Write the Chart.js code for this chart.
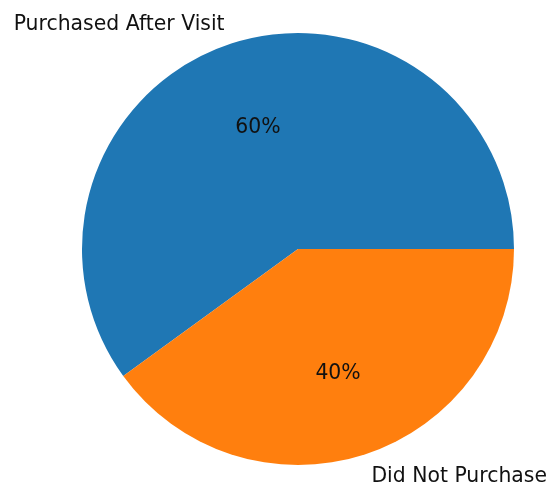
<!DOCTYPE html>
<html>
<head>
<meta charset="utf-8">
<title>Purchase after visit</title>
<script src="https://cdn.jsdelivr.net/npm/chart.js@4"></script>
<style>
  html, body { margin: 0; padding: 0; background: #ffffff; }
  canvas { display: block; }
</style>
</head>
<body>
<canvas id="pieChart" width="549" height="488"></canvas>
<script>
const categories = ['Purchased After Visit', 'Did Not Purchase'];
const shares = [60, 40];
const sliceColors = ['#1f77b4', '#ff7f0e'];

const FONT = '20.4px "DejaVu Sans", sans-serif';
const TEXT_DROP = 1.5; // nudge so the glyphs sit centred on the anchor point

// slice names just outside the rim, percentages inside the slices
const sliceLabels = {
  id: 'sliceLabels',
  afterDatasetsDraw(chart) {
    const ctx = chart.ctx;
    const arcs = chart.getDatasetMeta(0).data;
    const total = shares.reduce((a, b) => a + b, 0);
    ctx.save();
    ctx.font = FONT;
    ctx.fillStyle = '#111111';
    ctx.textBaseline = 'middle';
    arcs.forEach((arc, i) => {
      const mid = (arc.startAngle + arc.endAngle) / 2;
      const r = arc.outerRadius;
      const cx = Math.cos(mid), cy = Math.sin(mid);

      ctx.textAlign = cx < 0 ? 'right' : 'left';
      ctx.fillText(categories[i], arc.x + cx * r * 1.1, arc.y + cy * r * 1.1 + TEXT_DROP);

      ctx.textAlign = 'center';
      const pct = Math.round(shares[i] / total * 100) + '%';
      ctx.fillText(pct, arc.x + cx * r * 0.6, arc.y + cy * r * 0.6 + TEXT_DROP);
    });
    ctx.restore();
  }
};

new Chart(document.getElementById('pieChart').getContext('2d'), {
  type: 'pie',
  data: {
    labels: categories,
    datasets: [{
      data: shares,
      backgroundColor: sliceColors,
      borderWidth: 0
    }]
  },
  options: {
    responsive: false,
    animation: false,
    // first slice ends at 3 o'clock, going counter-clockwise like the classic pie
    rotation: 234,
    layout: { padding: { left: 82, right: 35, top: 33, bottom: 23 } },
    plugins: {
      legend: { display: false },
      tooltip: { enabled: false }
    }
  },
  plugins: [sliceLabels]
});
</script>
</body>
</html>
